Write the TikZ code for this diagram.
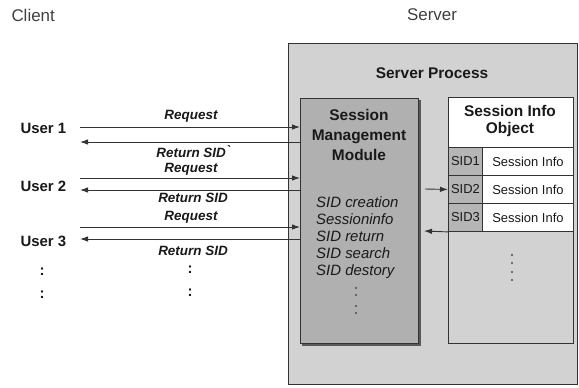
\documentclass[tikz,border=0pt]{standalone}
\usepackage{fontspec}
\setmainfont{Liberation Sans}
\usetikzlibrary{arrows.meta}

\begin{document}
\begin{tikzpicture}[x=1bp,y=-1bp,
  every node/.style={text=black!90},
  head/.style={font=\fontsize{17}{20}\selectfont, text=black!75},
  user/.style={font=\fontsize{15}{18}\selectfont\bfseries, anchor=west},
  msg/.style={font=\fontsize{13.5}{16}\selectfont\bfseries\itshape},
  ttl/.style={font=\fontsize{15.5}{20}\selectfont\bfseries, align=center},
  item/.style={font=\fontsize{15}{17}\selectfont\itshape, anchor=base west, inner sep=0pt},
  box/.style={draw=black!80, line width=0.9bp, inner sep=0pt, anchor=north west},
  cell/.style={box, minimum height=28bp, font=\fontsize{13}{15}\selectfont},
  arr/.style={draw=black!80, line width=0.9bp, -{Latex[length=8bp,width=5.5bp]}}]
  \useasboundingbox (0,0) rectangle (579,387);

  \node[head, anchor=west] (client) at (8,15) {Client};
  \node[head] (server) at (432,15) {Server};

  % server side
  \node[box, fill=gray!35, minimum width=289bp, minimum height=341bp] (srv) at (288,43) {};
  \node[ttl] (proc) at (432,73) {Server Process};
  \fill[black!65] (302,100) rectangle (421,346);
  \node[box, fill=gray!62, minimum width=118bp, minimum height=245bp] (mod) at (300,98) {};
  \node[ttl] (modtxt) at (359,135) {Session\\Management\\Module};
  \foreach \t [count=\k] in {SID creation, Sessioninfo, SID return, SID search, SID destory}
    \node[item] (op\k) at (316,190+17*\k) {\t};
  \foreach \y in {288,295,306,313}
    \fill[black!70] (356,\y) circle [radius=1.1bp];

  \node[box, fill=gray!35, minimum width=125bp, minimum height=246bp] (obj) at (448,97) {};
  \node[box, fill=white, minimum width=125bp, minimum height=50bp] (objhead) at (448,97) {};
  \node[ttl, font=\fontsize{15.5}{18}\selectfont\bfseries] (objtxt) at (510,121) {Session Info\\Object};
  \foreach \i/\y in {1/147,2/175,3/203} {
    \node[cell, fill=gray!58, minimum width=34bp] (sid\i) at (448,\y) {SID\i};
    \node[cell, fill=white, minimum width=91bp] (info\i) at (482,\y) {Session Info};
  }
  \foreach \y in {255,263,272,280}
    \fill[black!70] (512,\y) circle [radius=1.1bp];

  \coordinate (in2) at (425,189);
  \coordinate (out3) at (424,231);
  \draw[arr] (in2) -- (sid2.west);
  \draw[arr] (sid3.south west) -- (out3);

  % client side
  \foreach \i/\uy/\ry/\sy in {1/128/127/142, 2/186/178/190, 3/241/227/239} {
    \node[user] (u\i) at (17,\uy) {User \i};
    \coordinate (r\i) at (80,\ry);
    \coordinate (s\i) at (80,\sy);
    \draw[arr] (r\i) -- (r\i -| mod.west);
    \draw[arr] (s\i -| mod.west) -- (s\i);
  }
  \node[msg] (req1) at (191,116) {Request};
  \node[msg] (ret1) at (193,152) {Return SID\`{}};
  \node[msg] (req2) at (191,169) {Request};
  \node[msg] (ret2) at (193,198) {Return SID};
  \node[msg] (req3) at (191,217) {Request};
  \node[msg] (ret3) at (193,251) {Return SID};
  \foreach \x/\y in {42/272, 42/295, 190/270, 190/293}
    \node[user, anchor=center] at (\x,\y) {:};
\end{tikzpicture}
\end{document}
